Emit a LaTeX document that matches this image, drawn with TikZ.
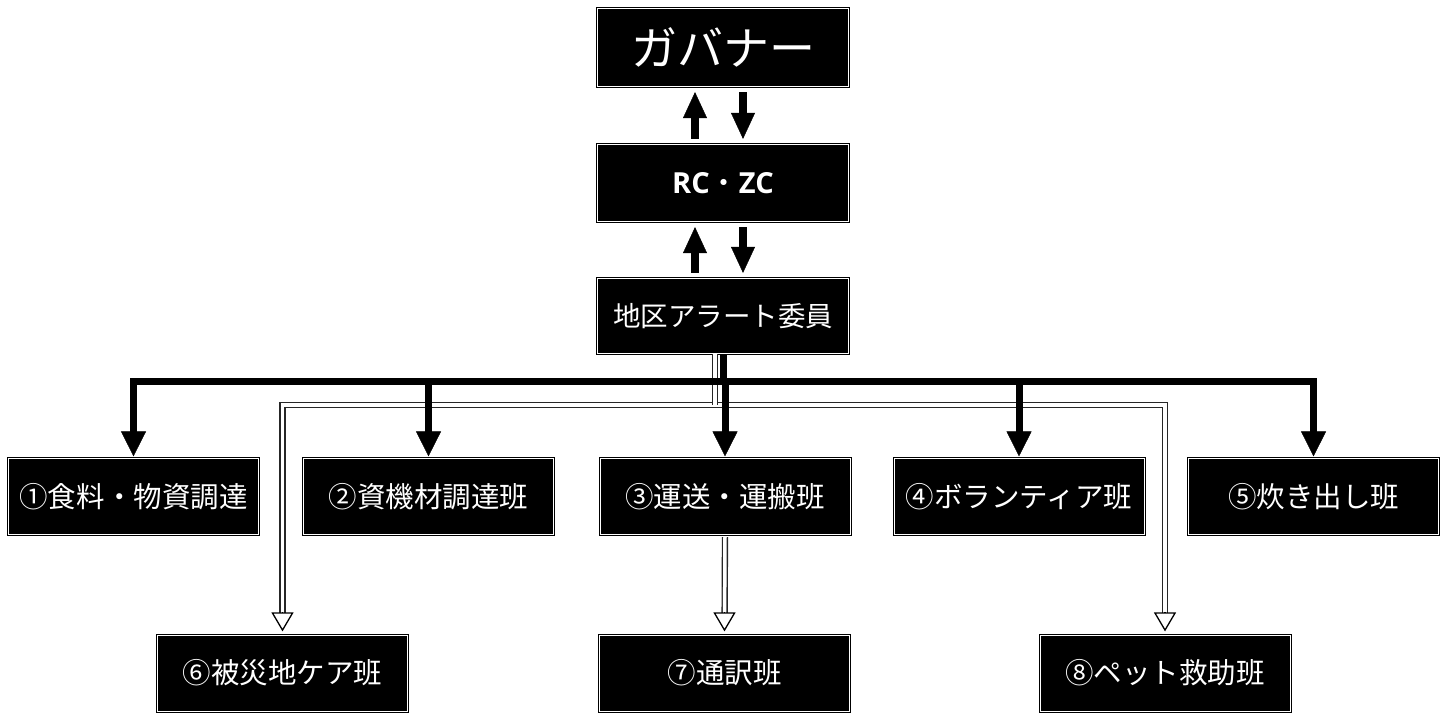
\documentclass[tikz,border=0pt]{standalone}
\usepackage{fontspec}
\setmainfont{Noto Sans CJK JP}
\newfontfamily\latinbf{Open Sans}
\usetikzlibrary{arrows.meta}
\begin{document}
\begin{tikzpicture}[x=1pt,y=-1pt,
  box/.style={rectangle, fill=black, draw=black, double=white, line width=1.2pt,
    double distance=0.6pt, inner sep=0pt, text=white, minimum width=250pt, minimum height=76pt,
    font=\fontsize{28.5}{32}\selectfont},
  topbox/.style={box, minimum width=251pt},
  bigarrow/.style={line width=8.5pt, draw=black,
    -{Triangle[width=24pt,length=26pt,line width=0.4pt]}, shorten <=5pt, shorten >=5pt},
  treeline/.style={line width=7pt, draw=black, line join=miter},
  treearrow/.style={treeline, -{Triangle[width=25pt,length=25pt,line width=0.4pt]}, shorten >=1.5pt},
  dbl/.style={draw=black!85, double=white, line width=1.4pt, double distance=3.5pt, line join=miter},
  hollow/.style={draw=black, line width=1.3pt, -{Triangle[open,width=22pt,length=19pt,fill=white]}, shorten >=3pt}
]
\useasboundingbox (0,0) rectangle (1447,715);

% top chain
\node[topbox, minimum height=78pt, font=\fontsize{46}{50}\selectfont] (gov) at (723,47.5) {ガバナー};
\node[topbox, minimum height=77pt, font=\fontsize{29}{32}\selectfont] (rc) at (723,183) {{\latinbf\bfseries RC}{・}{\latinbf\bfseries ZC}};
\node[topbox, minimum height=75pt, font=\fontsize{27.5}{30}\selectfont] (zone) at (723,316) {地区アラート委員};

% row 1
\node[box] (b1) at (133.5,496.5) {①食料・物資調達};
\node[box] (b2) at (428.5,496.5) {②資機材調達班};
\node[box] (b3) at (725,496.5) {③運送・運搬班};
\node[box] (b4) at (1019,496.5) {④ボランティア班};
\node[box] (b5) at (1313.5,496.5) {⑤炊き出し班};

% row 2
\node[box] (b6) at (282.5,673) {⑥被災地ケア班};
\node[box] (b7) at (724.5,673) {⑦通訳班};
\node[box] (b8) at (1165,673) {⑧ペット救助班};

\coordinate (bus) at (723,381);
\coordinate (dbus) at (715,405);

% arrows between top boxes
\draw[bigarrow] ([xshift=-28pt]rc.north) -- ([xshift=-28pt]gov.south);
\draw[bigarrow] ([xshift=20pt]gov.south) -- ([xshift=20pt]rc.north);
\draw[bigarrow] ([xshift=-28pt]zone.north) -- ([xshift=-28pt]rc.south);
\draw[bigarrow] ([xshift=20pt]rc.south) -- ([xshift=20pt]zone.north);

% double (hollow) connectors
\draw[dbl, shorten >=20pt] (dbus) -| (b6.north);
\draw[dbl, shorten >=20pt] (dbus) -| (b8.north);
\draw[dbl] ([xshift=-8pt]zone.south) -- (dbus);
\draw[dbl, shorten <=2pt, shorten >=20pt] (b3.south) -- (b7.north);
\draw[hollow] ([yshift=22pt]b6.north) -- (b6.north);
\draw[hollow] ([yshift=22pt]b7.north) -- (b7.north);
\draw[hollow] ([yshift=22pt]b8.north) -- (b8.north);

% solid tree
\draw[treeline] (zone.south) -- (bus);
\draw[treearrow] (bus) -| (b1.north);
\draw[treearrow] (bus) -| (b5.north);
\draw[treearrow] (bus -| b2.north) -- (b2.north);
\draw[treearrow] (bus -| b3.north) -- (b3.north);
\draw[treearrow] (bus -| b4.north) -- (b4.north);
\end{tikzpicture}
\end{document}
